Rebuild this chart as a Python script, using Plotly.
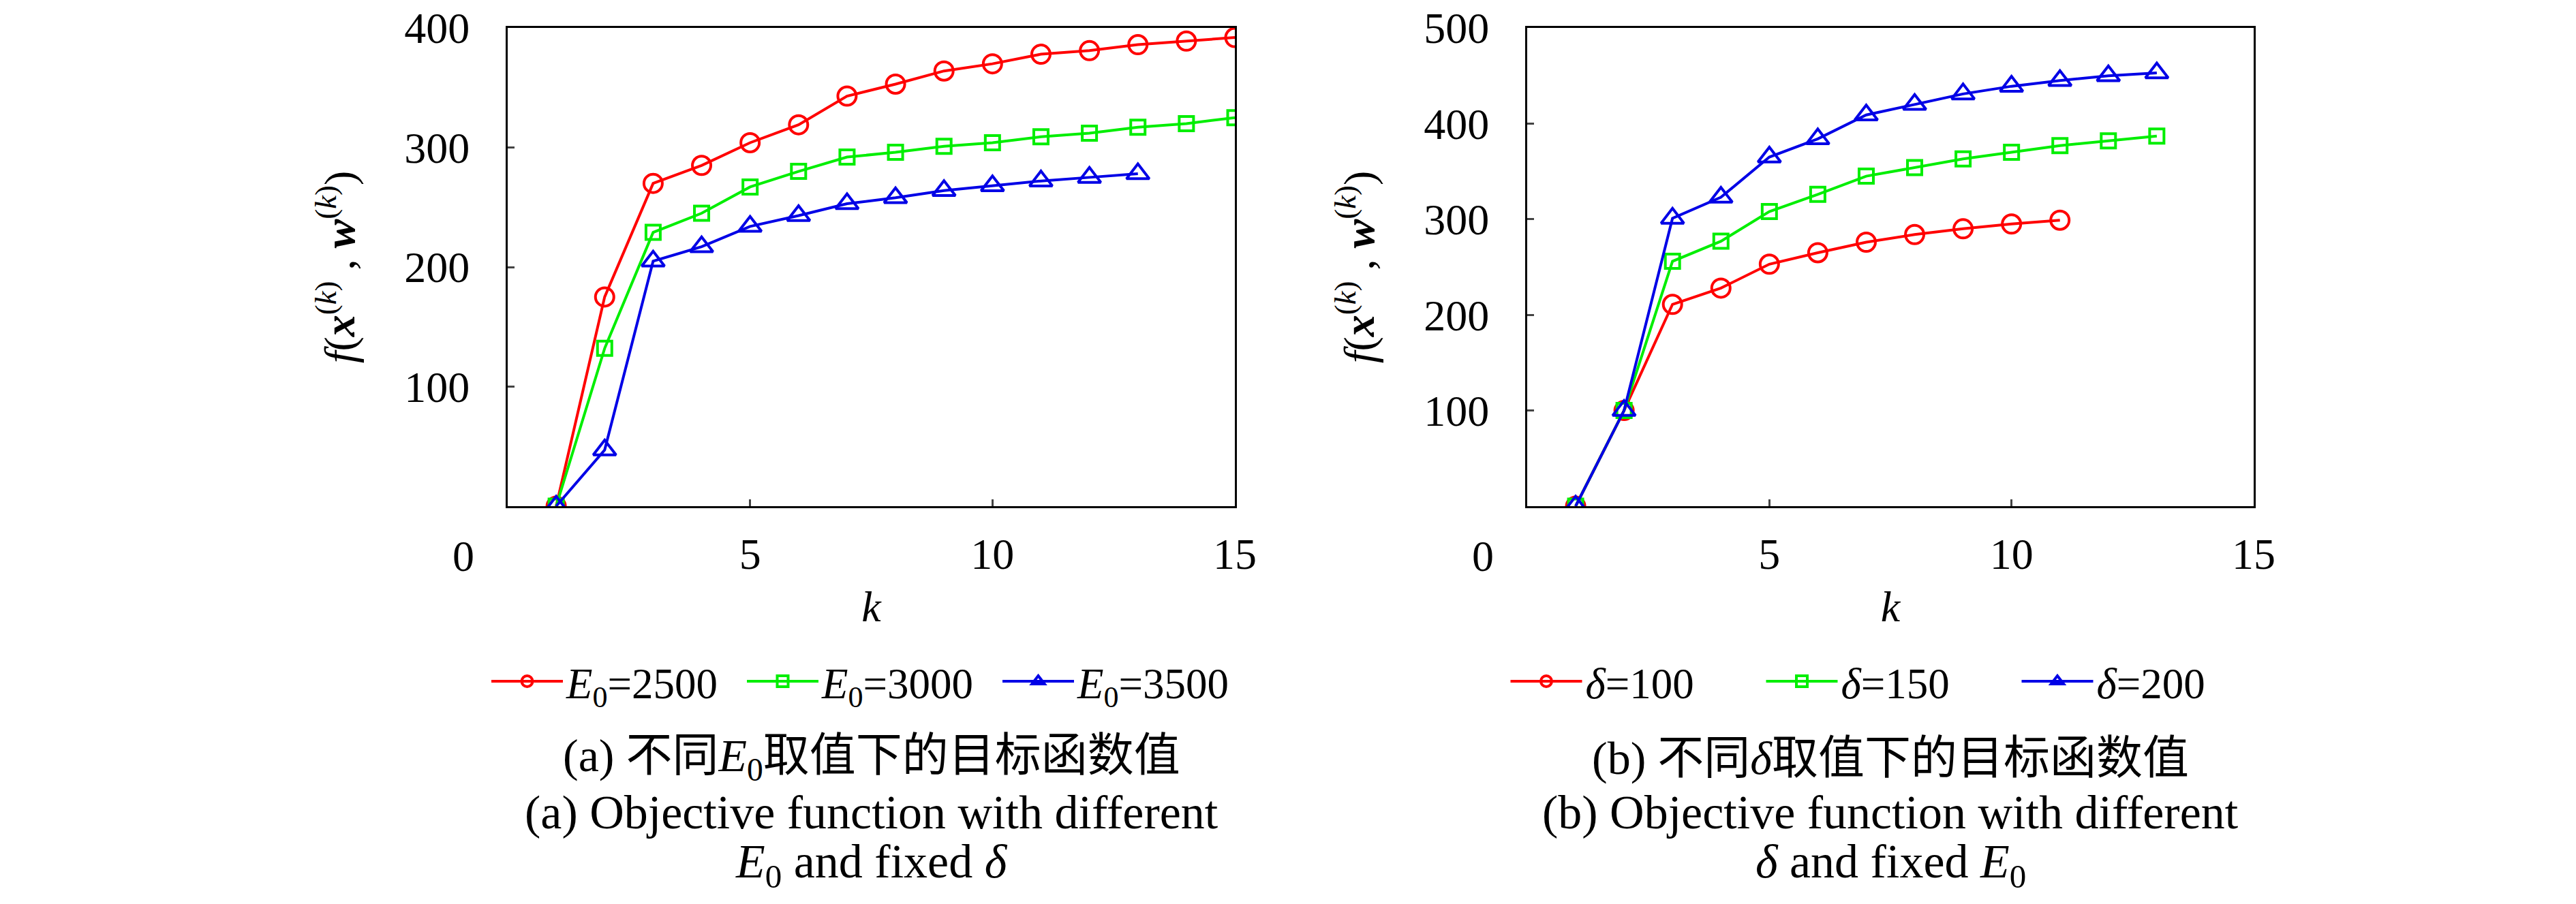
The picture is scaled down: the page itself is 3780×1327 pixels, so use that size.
import plotly.graph_objects as go

k_a1 = list(range(1, 16))
k_a2 = list(range(1, 16))
k_a3 = list(range(1, 14))
E2500 = [0, 175, 270, 285, 304, 319, 343, 353, 364, 370, 378, 381, 386, 389, 392]
E3000 = [0, 132, 229, 245, 267, 280, 292, 296, 301, 304, 309, 312, 317, 320, 325]
E3500 = [0, 47, 205, 217, 234, 243, 253, 258, 264, 268, 272, 275, 278]

k_b1 = list(range(1, 12))
k_b2 = list(range(1, 14))
k_b3 = list(range(1, 14))
d100 = [0, 100, 211, 228, 253, 265, 276, 284, 290, 295, 299]
d150 = [0, 100, 256, 277, 308, 326, 345, 354, 363, 370, 377, 382, 387]
d200 = [0, 100, 301, 323, 365, 384, 409, 420, 431, 439, 445, 450, 453]

x_ticks = [5, 10, 15]
ya_ticks = [100, 200, 300, 400]
yb_ticks = [100, 200, 300, 400, 500]

names_a = ["<i>E</i><sub>0</sub>=2500", "<i>E</i><sub>0</sub>=3000", "<i>E</i><sub>0</sub>=3500"]
names_b = ["<i>δ</i>=100", "<i>δ</i>=150", "<i>δ</i>=200"]

RED, GREEN, BLUE = "#ff0000", "#00ee00", "#0000e6"
FONT = "Liberation Serif, Noto Sans CJK SC, serif"
W, H = 3780, 1327
OX, OY = 8, 8  # page body offset


def px(xp):
    return (xp - OX) / W


def py(yp):
    return 1 - (yp - OY) / H


fig = go.Figure()


def add(x, y, name, color, symbol, size, xa, ya, legend):
    fig.add_trace(go.Scatter(
        x=x, y=y, name=name, mode="lines+markers",
        line=dict(color=color, width=4),
        marker=dict(symbol=symbol, size=size, color=color, line=dict(color=color, width=4)),
        xaxis=xa, yaxis=ya, legend=legend))


add(k_a1, E2500, names_a[0], RED, "circle-open", 27, "x", "y", "legend")
add(k_a2, E3000, names_a[1], GREEN, "square-open", 21, "x", "y", "legend")
add(k_a3, E3500, names_a[2], BLUE, "triangle-up-open", 29, "x", "y", "legend")
add(k_b1, d100, names_b[0], RED, "circle-open", 27, "x2", "y2", "legend2")
add(k_b2, d150, names_b[1], GREEN, "square-open", 21, "x2", "y2", "legend2")
add(k_b3, d200, names_b[2], BLUE, "triangle-up-open", 29, "x2", "y2", "legend2")

ydom = [py(743), py(41)]
dom_a = [px(745), px(1812)]
dom_b = [px(2241), px(3307)]

ytitle = "<i>f</i>(<b><i>x</i></b><sup>(<i>k</i>)</sup> , <b><i>w</i></b><sup>(<i>k</i>)</sup>)"

xcommon = dict(range=[0, 15], tickvals=x_ticks, ticks="inside", ticklen=10, tickwidth=3,
               showline=True, linewidth=3, linecolor="black", mirror=True, showgrid=False,
               zeroline=False, automargin=False, ticklabeloverflow="allow",
               tickfont=dict(size=64, family=FONT, color="black"),
               ticklabelstandoff=12,
               title=dict(text="<i>k</i>", font=dict(size=64, family=FONT, color="black"), standoff=20))
ycommon = dict(ticks="inside", ticklen=10, tickwidth=3,
               showline=True, linewidth=3, linecolor="black", mirror=True, showgrid=False,
               zeroline=False, automargin=False, ticklabeloverflow="allow",
               tickfont=dict(size=64, family=FONT, color="black"),
               ticklabelstandoff=40,
               title=dict(text=ytitle, font=dict(size=64, family=FONT, color="black"), standoff=52))

legend_common = dict(orientation="h", y=py(1000), yanchor="middle", xanchor="center",
                     font=dict(size=63, family=FONT, color="black"), bgcolor="rgba(0,0,0,0)",
                     itemwidth=105, entrywidth=255, entrywidthmode="pixels")

fig.update_layout(
    width=W, height=H, margin=dict(l=0, r=0, t=0, b=0, autoexpand=False),
    paper_bgcolor="white", plot_bgcolor="white",
    font=dict(family=FONT, color="black"),
    xaxis=dict(domain=dom_a, anchor="y", **xcommon),
    yaxis=dict(domain=ydom, anchor="x", range=[0, 400], tickvals=ya_ticks, **ycommon),
    xaxis2=dict(domain=dom_b, anchor="y2", **xcommon),
    yaxis2=dict(domain=ydom, anchor="x2", range=[0, 500], tickvals=yb_ticks, **ycommon),
    legend=dict(x=(dom_a[0] + dom_a[1]) / 2, **legend_common),
    legend2=dict(x=(dom_b[0] + dom_b[1]) / 2, **legend_common),
    showlegend=True,
)

# the "0" x tick label sits left of the axis corner
for xr in ["x", "x2"]:
    fig.add_annotation(x=0, xref=xr, y=py(816), yref="paper", text="0", showarrow=False,
                       xshift=-65, yanchor="middle", font=dict(size=64, family=FONT, color="black"))

caps_a = ["(a) 不同<i>E</i><sub>0</sub>取值下的目标函数值",
          "(a) Objective function with different",
          "<i>E</i><sub>0</sub> and fixed <i>δ</i>"]
caps_b = ["(b) 不同<i>δ</i>取值下的目标函数值",
          "(b) Objective function with different",
          "<i>δ</i> and fixed <i>E</i><sub>0</sub>"]
cap_y = [1113, 1192, 1270]
cap_size = [68, 70, 70]
for caps, dom in [(caps_a, dom_a), (caps_b, dom_b)]:
    for t, yy, fs in zip(caps, cap_y, cap_size):
        fig.add_annotation(x=(dom[0] + dom[1]) / 2, xref="paper", y=py(yy), yref="paper", text=t,
                           showarrow=False, yanchor="middle", xanchor="center",
                           font=dict(size=fs, family=FONT, color="black"))

fig.write_html("out.html")
